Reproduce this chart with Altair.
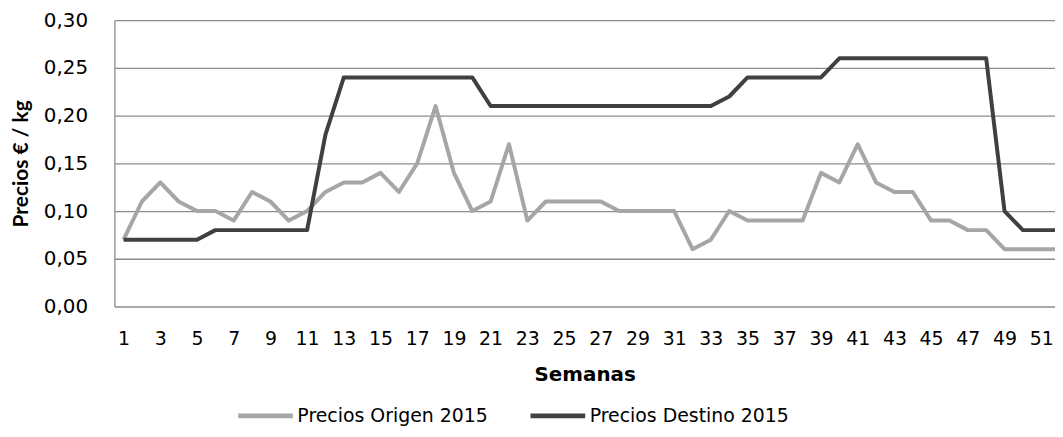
import altair as alt
import pandas as pd

weeks = list(range(1, 53))
origen = [0.07, 0.11, 0.13, 0.11, 0.10, 0.10, 0.09, 0.12, 0.11, 0.09,
          0.10, 0.12, 0.13, 0.13, 0.14, 0.12, 0.15, 0.21, 0.14, 0.10,
          0.11, 0.17, 0.09, 0.11, 0.11, 0.11, 0.11, 0.10, 0.10, 0.10,
          0.10, 0.06, 0.07, 0.10, 0.09, 0.09, 0.09, 0.09, 0.14, 0.13,
          0.17, 0.13, 0.12, 0.12, 0.09, 0.09, 0.08, 0.08, 0.06, 0.06,
          0.06, 0.06]
destino = [0.07, 0.07, 0.07, 0.07, 0.07, 0.08, 0.08, 0.08, 0.08, 0.08,
           0.08, 0.18, 0.24, 0.24, 0.24, 0.24, 0.24, 0.24, 0.24, 0.24,
           0.21, 0.21, 0.21, 0.21, 0.21, 0.21, 0.21, 0.21, 0.21, 0.21,
           0.21, 0.21, 0.21, 0.22, 0.24, 0.24, 0.24, 0.24, 0.24, 0.26,
           0.26, 0.26, 0.26, 0.26, 0.26, 0.26, 0.26, 0.26, 0.10, 0.08,
           0.08, 0.08]
series_names = ["Precios Origen 2015", "Precios Destino 2015"]
series_colors = ["#A6A6A6", "#404040"]
tick_weeks = list(range(1, 53, 2))

rows = []
for w, o, d in zip(weeks, origen, destino):
    rows.append({"Semana": w, "Precio": o, "Serie": series_names[0]})
    rows.append({"Semana": w, "Precio": d, "Serie": series_names[1]})
df = pd.DataFrame(rows)

WIDE = "DejaVu Sans"
NARROW = "Lato"

chart = alt.Chart(df).mark_line(strokeWidth=4, clip=True, strokeJoin="round").encode(
    x=alt.X("Semana:Q",
            scale=alt.Scale(domain=[0.5, 51.75], nice=False, zero=False),
            axis=alt.Axis(values=tick_weeks, title="Semanas", grid=False, ticks=False,
                          domain=False, labelFontSize=19, labelColor="#000000",
                          labelPadding=23, labelFont=WIDE, titleFont=WIDE,
                          titleFontSize=20, titleFontWeight="bold", titleColor="#000000",
                          titlePadding=16, labelFlush=False)),
    y=alt.Y("Precio:Q",
            scale=alt.Scale(domain=[0, 0.30], nice=False),
            axis=alt.Axis(values=[0, 0.05, 0.10, 0.15, 0.20, 0.25, 0.30],
                          labelExpr="replace(format(datum.value, '.2f'), '.', ',')",
                          title="Precios € / kg", grid=True, gridColor="#8C8C8C",
                          gridWidth=1.3, ticks=False, domain=True, domainColor="#8C8C8C",
                          domainWidth=1.3, labelFontSize=20, labelColor="#000000",
                          labelPadding=27, labelFont=WIDE, titleFont=NARROW,
                          titleFontSize=21, titleFontWeight="bold", titleColor="#000000",
                          titlePadding=12)),
    color=alt.Color("Serie:N",
                    scale=alt.Scale(domain=series_names, range=series_colors),
                    sort=series_names,
                    legend=alt.Legend(title=None, orient="none", legendX=122, legendY=368,
                                      direction="horizontal", symbolType="stroke",
                                      symbolStrokeWidth=5, symbolSize=3025,
                                      labelFontSize=19, labelFont=WIDE, labelColor="#000000",
                                      labelOffset=2, columnPadding=32, labelLimit=500)),
).properties(
    width=946,
    height=288,
    autosize=alt.AutoSizeParams(type="none"),
    padding={"left": 107, "top": 11, "right": 0, "bottom": 122},
).configure_view(stroke=None)

chart.save("out.html", embed_options={"renderer": "svg", "actions": False})
